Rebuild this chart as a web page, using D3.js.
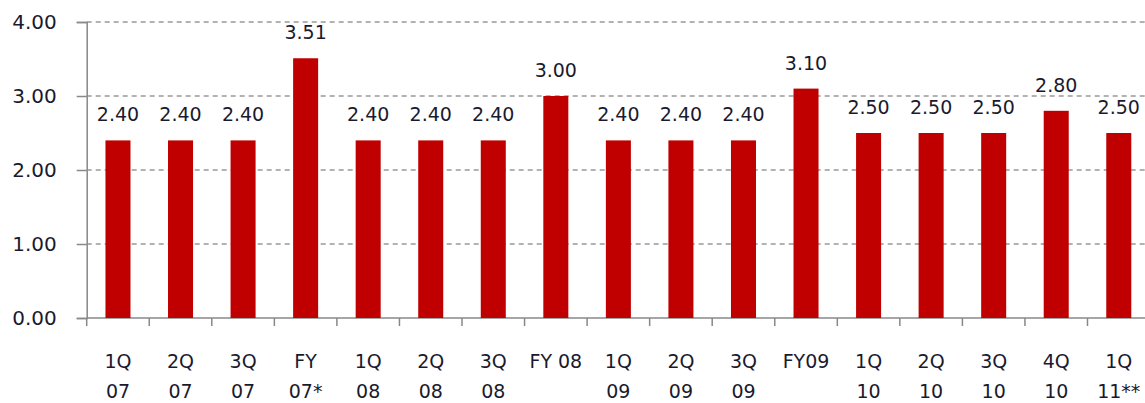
<!DOCTYPE html>
<html>
<head>
<meta charset="utf-8">
<script src="https://cdn.jsdelivr.net/npm/d3@7"></script>
<style>
  html, body { margin: 0; padding: 0; background: #fff; }
  svg { display: block; }
  text { font-family: "DejaVu Sans", Verdana, sans-serif; fill: #1a1a2e; }
</style>
</head>
<body>
<svg id="chart" width="1145" height="403"></svg>
<script>
// Quarterly / fiscal-year values
const categories = [
  "1Q\n07", "2Q\n07", "3Q\n07", "FY\n07*",
  "1Q\n08", "2Q\n08", "3Q\n08", "FY 08",
  "1Q\n09", "2Q\n09", "3Q\n09", "FY09",
  "1Q\n10", "2Q\n10", "3Q\n10", "4Q\n10", "1Q\n11**"
];
const values = [2.40, 2.40, 2.40, 3.51, 2.40, 2.40, 2.40, 3.00, 2.40, 2.40, 2.40, 3.10, 2.50, 2.50, 2.50, 2.80, 2.50];
const yTicks = [0, 1, 2, 3, 4];

const svg = d3.select("#chart");
const plotLeft = 86.7, plotTop = 22, plotBottom = 318;
const band = 62.55;

const x = d3.scaleBand()
  .domain(categories)
  .range([plotLeft, plotLeft + band * categories.length])
  .paddingInner(0.6)
  .paddingOuter(0.3);

const y = d3.scaleLinear().domain([0, 4]).range([plotBottom, plotTop]);

// dashed gridlines
svg.append("g")
  .selectAll("line")
  .data(yTicks.filter(d => d > 0))
  .join("line")
  .attr("x1", plotLeft)
  .attr("x2", 1145)
  .attr("y1", d => y(d))
  .attr("y2", d => y(d))
  .attr("stroke", "#999")
  .attr("stroke-width", 1.5)
  .attr("stroke-dasharray", "5,4");

// y axis
const yAxis = svg.append("g")
  .attr("transform", `translate(${plotLeft},0)`)
  .call(d3.axisLeft(y).tickValues(yTicks).tickFormat(d3.format(".2f")).tickSize(10).tickPadding(20));
yAxis.select(".domain").attr("stroke", "#888").attr("stroke-width", 1.5);
yAxis.selectAll(".tick line").attr("stroke", "#888").attr("stroke-width", 1.5);
yAxis.selectAll(".tick text")
  .style("font-size", "20px")
  .attr("fill", "#1a1a2e");

// x axis baseline with ticks between categories
const gx = svg.append("g");
gx.append("line")
  .attr("x1", plotLeft).attr("x2", 1145)
  .attr("y1", plotBottom).attr("y2", plotBottom)
  .attr("stroke", "#888").attr("stroke-width", 1.5);
gx.selectAll("line.tk")
  .data(categories)
  .join("line")
  .attr("class", "tk")
  .attr("x1", (d, i) => plotLeft + band * i)
  .attr("x2", (d, i) => plotLeft + band * i)
  .attr("y1", plotBottom)
  .attr("y2", plotBottom + 8)
  .attr("stroke", "#888").attr("stroke-width", 1.5);

// bars
svg.append("g")
  .selectAll("rect")
  .data(values)
  .join("rect")
  .attr("x", (d, i) => x(categories[i]))
  .attr("width", x.bandwidth())
  .attr("y", d => y(d))
  .attr("height", d => y(0) - y(d))
  .attr("fill", "#C00000");

// value labels
svg.append("g")
  .selectAll("text")
  .data(values)
  .join("text")
  .attr("x", (d, i) => x(categories[i]) + x.bandwidth() / 2)
  .attr("y", d => y(d) - 19)
  .attr("text-anchor", "middle")
  .style("font-size", "19px")
  .text(d => d3.format(".2f")(d));

// category labels (two lines)
const cl = svg.append("g")
  .selectAll("text")
  .data(categories)
  .join("text")
  .attr("text-anchor", "middle")
  .style("font-size", "19px")
  .attr("transform", d => `translate(${x(d) + x.bandwidth() / 2},0)`);
cl.selectAll("tspan")
  .data(d => d.split("\n"))
  .join("tspan")
  .attr("x", 0)
  .attr("y", (d, i) => 368 + i * 30)
  .text(d => d);
</script>
</body>
</html>
